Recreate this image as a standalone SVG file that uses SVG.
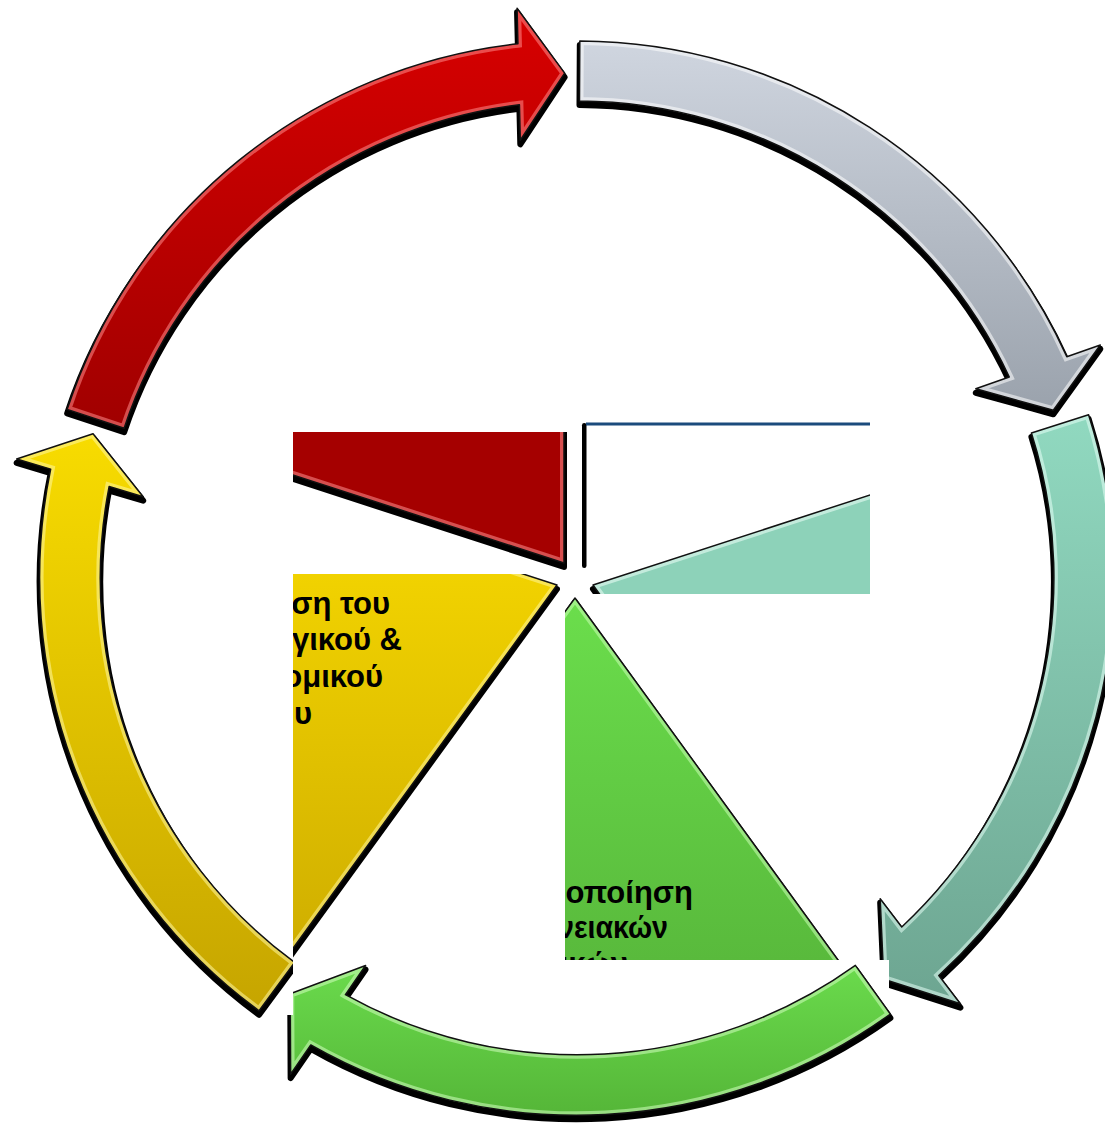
<svg xmlns="http://www.w3.org/2000/svg" width="1105" height="1125" viewBox="0 0 1105 1125">
<defs>
<style>
.sh{fill:#000;stroke:#000;stroke-width:6;stroke-linejoin:round}
.ol{fill:none;stroke:#111;stroke-width:1.5;stroke-linejoin:round}
.hl{fill:none;stroke-width:8;stroke-opacity:.55}
.t{font-family:"Liberation Sans","Arial","DejaVu Sans",sans-serif;font-weight:700;font-size:31px;fill:#000}
</style>
<path id="arr" d="M 67.16 409.39 A 537 537 0 0 1 517.92 43.78 L 517.06 8.29 L 564.66 73.15 L 520.28 140.25 L 519.42 104.76 A 477 477 0 0 0 124.12 428.23 Z"/>
<clipPath id="cArr"><use href="#arr"/></clipPath>
<linearGradient id="gRed" gradientUnits="userSpaceOnUse" x1="577" y1="8" x2="577" y2="430"><stop offset="0" stop-color="#D80000"/><stop offset="1" stop-color="#A00000"/></linearGradient>
<linearGradient id="gGrey" gradientUnits="userSpaceOnUse" x1="577" y1="44" x2="577" y2="420" gradientTransform="rotate(-72 577 578)"><stop offset="0" stop-color="#CFD5DF"/><stop offset="1" stop-color="#99A1AB"/></linearGradient>
<linearGradient id="gTeal" gradientUnits="userSpaceOnUse" x1="577" y1="425" x2="577" y2="1005" gradientTransform="rotate(-144 577 578)"><stop offset="0" stop-color="#90D8BF"/><stop offset="1" stop-color="#6DA591"/></linearGradient>
<linearGradient id="gGreen" gradientUnits="userSpaceOnUse" x1="577" y1="960" x2="577" y2="1115" gradientTransform="rotate(-216 577 578)"><stop offset="0" stop-color="#6BDC4D"/><stop offset="1" stop-color="#55B638"/></linearGradient>
<linearGradient id="gYellow" gradientUnits="userSpaceOnUse" x1="577" y1="430" x2="577" y2="1010" gradientTransform="rotate(-288 577 578)"><stop offset="0" stop-color="#F8DC00"/><stop offset="1" stop-color="#C6A500"/></linearGradient>
<linearGradient id="gsYellow" gradientUnits="userSpaceOnUse" x1="0" y1="574" x2="0" y2="955"><stop offset="0" stop-color="#F1D200"/><stop offset="1" stop-color="#CFAE00"/></linearGradient>
<linearGradient id="gsGreen" gradientUnits="userSpaceOnUse" x1="0" y1="598" x2="0" y2="960"><stop offset="0" stop-color="#6BDE4C"/><stop offset="1" stop-color="#59BA3C"/></linearGradient>
<polygon id="sRed" points="564,563 -101.7,346.7 -101.7,-137 564,-137"/>
<polygon id="sTeal" points="593,585 1353.8,337.8 1063.2,1232.2"/>
<polygon id="sYellow" points="557,585 86.8,1232.2 -203.8,337.8"/>
<polygon id="sGreen" points="575,598 1045.2,1245.2 104.8,1245.2"/>
<clipPath id="csRed"><use href="#sRed"/></clipPath>
<clipPath id="csTeal"><use href="#sTeal"/></clipPath>
<clipPath id="csYellow"><use href="#sYellow"/></clipPath>
<clipPath id="csGreen"><use href="#sGreen"/></clipPath>
<clipPath id="tR"><rect x="293" y="432" width="280" height="143"/></clipPath>
<clipPath id="tT"><rect x="583" y="424" width="287" height="170"/></clipPath>
<clipPath id="tY"><rect x="293" y="574" width="270" height="390"/></clipPath>
<clipPath id="tG"><rect x="565" y="594" width="310" height="366"/></clipPath>
<clipPath id="hTeal"><path clip-rule="evenodd" d="M0 0H1105V1125H0Z M293 960H889V1015H293Z"/></clipPath>
<clipPath id="hGreen"><path clip-rule="evenodd" d="M0 0H1105V1125H0Z M200 900H293V1015H200Z"/></clipPath>
<clipPath id="hYellow"><path clip-rule="evenodd" d="M0 0H1105V1125H0Z M293 574H889V1015H293Z"/></clipPath>
</defs>
<rect width="1105" height="1125" fill="#fff"/>

<g id="connectors">
 <g id="arrow-red">
  <use href="#arr" class="sh" transform="translate(0,4)"/>
  <use href="#arr" fill="url(#gRed)"/>
  <use href="#arr" class="hl" stroke="#FF8A8A" clip-path="url(#cArr)"/>
  <use href="#arr" class="ol"/>
 </g>
 <g id="arrow-grey">
  <use href="#arr" class="sh" transform="translate(0,4) rotate(72 577 578)"/>
  <g transform="rotate(72 577 578)">
   <use href="#arr" fill="url(#gGrey)"/>
   <use href="#arr" class="hl" stroke="#FFFFFF" clip-path="url(#cArr)"/>
   <use href="#arr" class="ol"/>
  </g>
 </g>
 <g id="arrow-teal" clip-path="url(#hTeal)">
  <use href="#arr" class="sh" transform="translate(0,4) rotate(144 577 578)"/>
  <g transform="rotate(144 577 578)">
   <use href="#arr" fill="url(#gTeal)"/>
   <use href="#arr" class="hl" stroke="#E6FFF6" clip-path="url(#cArr)"/>
   <use href="#arr" class="ol"/>
  </g>
 </g>
 <g id="arrow-green" clip-path="url(#hGreen)">
  <use href="#arr" class="sh" transform="translate(0,4) rotate(216 577 578)"/>
  <g transform="rotate(216 577 578)">
   <use href="#arr" fill="url(#gGreen)"/>
   <use href="#arr" class="hl" stroke="#D2FFC0" clip-path="url(#cArr)"/>
   <use href="#arr" class="ol"/>
  </g>
 </g>
 <g id="arrow-yellow" clip-path="url(#hYellow)">
  <use href="#arr" class="sh" transform="translate(0,4) rotate(288 577 578)"/>
  <g transform="rotate(288 577 578)">
   <use href="#arr" fill="url(#gYellow)"/>
   <use href="#arr" class="hl" stroke="#FFF7A0" clip-path="url(#cArr)"/>
   <use href="#arr" class="ol"/>
  </g>
 </g>
</g>

<g id="node-red" clip-path="url(#tR)">
 <use href="#sRed" class="sh" transform="translate(0,4)"/>
 <use href="#sRed" fill="#A50000"/>
 <use href="#sRed" class="hl" stroke="#FF9090" clip-path="url(#csRed)"/>
 <use href="#sRed" class="ol"/>
</g>

<g id="node-teal">
 <g clip-path="url(#tT)">
  <use href="#sTeal" class="sh" transform="translate(0,4)"/>
  <use href="#sTeal" fill="#8DD2B9"/>
  <use href="#sTeal" class="hl" stroke="#F0FFFA" clip-path="url(#csTeal)"/>
  <use href="#sTeal" class="ol"/>
 </g>
 <rect x="582" y="423" width="4.5" height="145" rx="2.2" fill="#000"/>
 <rect x="586" y="422.5" width="284" height="3" fill="#1B4B7C"/>
</g>

<g id="node-yellow" clip-path="url(#tY)">
 <use href="#sYellow" class="sh" transform="translate(0,4)"/>
 <use href="#sYellow" fill="url(#gsYellow)"/>
 <use href="#sYellow" class="hl" stroke="#FFF59A" clip-path="url(#csYellow)"/>
 <use href="#sYellow" class="ol"/>
 <text class="t" text-anchor="end" x="390" y="614">ση του</text>
 <text class="t" text-anchor="end" x="402" y="650">γικού &amp;</text>
 <text class="t" text-anchor="end" x="383" y="687">ομικού</text>
 <text class="t" text-anchor="end" x="312" y="724">υ</text>
</g>

<g id="node-green" clip-path="url(#tG)">
 <use href="#sGreen" class="sh" transform="translate(0,4)"/>
 <use href="#sGreen" fill="url(#gsGreen)"/>
 <use href="#sGreen" class="hl" stroke="#C9FFB5" clip-path="url(#csGreen)"/>
 <use href="#sGreen" class="ol"/>
 <text class="t" text-anchor="end" x="693" y="903">οποίηση</text>
 <text class="t" text-anchor="end" x="668" y="938" textLength="110" lengthAdjust="spacingAndGlyphs">νειακών</text>
 <text class="t" text-anchor="end" x="628" y="974">ικών</text>
</g>
</svg>
